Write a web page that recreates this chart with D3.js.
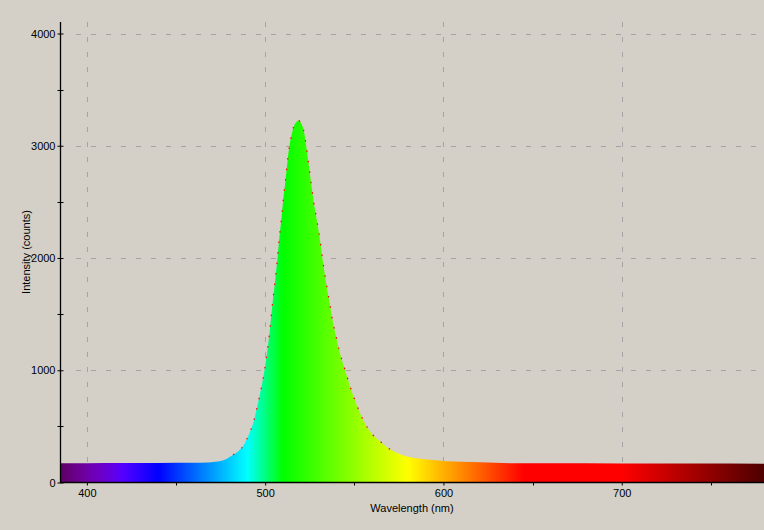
<!DOCTYPE html>
<html>
<head>
<meta charset="utf-8">
<script src="https://cdn.jsdelivr.net/npm/d3@7"></script>
<style>
  html, body { margin: 0; padding: 0; background: #d4d0c8; }
  svg { display: block; }
  text { font-family: "Liberation Sans", Arial, sans-serif; font-size: 11px; fill: #000; }
</style>
</head>
<body>
<svg id="chart" width="764" height="530"></svg>
<script>
// ---- data ----
const wavelengths = [385, 400, 420, 440, 460, 468, 472, 475, 478, 480, 482, 485, 488, 490.5, 493.4, 496.3, 499.6, 502.4, 504.3, 505.6, 506.9, 507.8, 509, 510.1, 511.4, 513.6, 515, 515.9, 517.3, 518.7, 520, 521.1, 522, 523, 525.6, 527.1, 529, 530.8, 532.1, 534, 535.9, 538.1, 539.2, 541.5, 544.8, 550.4, 555.1, 559.8, 564.4, 568.5, 573.8, 578, 583.1, 592.4, 601.8, 610, 620.4, 639, 660, 700, 740, 780];
const intensities = [172, 172, 173, 174, 175, 178, 184, 192, 208, 228, 248, 279, 333, 415, 537, 730, 1000, 1325, 1621, 1800, 2000, 2156, 2334, 2512, 2690, 3000, 3107, 3166, 3208, 3225, 3205, 3166, 3107, 3000, 2690, 2512, 2334, 2156, 2000, 1800, 1621, 1420, 1340, 1180, 1000, 730, 552, 434, 368, 312, 264, 238, 220, 202, 190, 185, 181, 172, 171, 170, 169, 168];
const xTicks = [400, 500, 600, 700];
const xMinorTicks = [450, 550, 650, 750];
const yTicks = [0, 1000, 2000, 3000, 4000];
const yMinorTicks = [500, 1500, 2500, 3500];
const xLabel = "Wavelength (nm)";
const yLabel = "Intensity (counts)";

(function () {
const data = wavelengths.map((w, i) => ({ w, v: intensities[i] }));

// ---- layout ----
const svg = d3.select("#chart");
const pLeft = 60.5, pRight = 764, pTop = 22, pBottom = 482.5;
const x = d3.scaleLinear().domain([385.2, 779.8]).range([pLeft, pRight]);
const y = d3.scaleLinear().domain([0, 4000]).range([pBottom, 33.5]);

// wavelength -> colour (classic spectral approximation)
function specColor(wl) {
  let r = 0, g = 0, b = 0;
  if (wl < 440) { r = -(wl - 440) / 60; b = 1; }
  else if (wl < 490) { g = (wl - 440) / 50; b = 1; }
  else if (wl < 510) { g = 1; b = -(wl - 510) / 20; }
  else if (wl < 580) { r = (wl - 510) / 70; g = 1; }
  else if (wl < 645) { r = 1; g = -(wl - 645) / 65; }
  else { r = 1; }
  let f = 1;
  if (wl < 420) f = 0.3 + 0.7 * (wl - 380) / 40;
  else if (wl > 700) f = 0.3 + 0.7 * (780 - wl) / 80;
  const c = v => Math.round(255 * Math.max(0, Math.min(1, v * f)));
  return `rgb(${c(r)},${c(g)},${c(b)})`;
}

const defs = svg.append("defs");
const grad = defs.append("linearGradient")
  .attr("id", "spec").attr("gradientUnits", "userSpaceOnUse")
  .attr("x1", x(385.2)).attr("x2", x(779.8)).attr("y1", 0).attr("y2", 0);
const [d0, d1] = x.domain();
for (let wl = d0; wl <= d1 + 0.01; wl += 2.5) {
  grad.append("stop").attr("offset", (wl - d0) / (d1 - d0)).attr("stop-color", specColor(wl));
}

// ---- grid ----
const grid = svg.append("g").attr("stroke", "#a4a4a4").attr("stroke-width", 1)
  .attr("stroke-dasharray", "5,10").attr("shape-rendering", "crispEdges");
grid.selectAll(".vg").data(xTicks).join("line")
  .attr("x1", d => Math.round(x(d)) + 0.5).attr("x2", d => Math.round(x(d)) + 0.5)
  .attr("y1", pTop).attr("y2", pBottom);
grid.selectAll(".hg").data(yTicks.filter(d => d > 0)).join("line")
  .attr("x1", pLeft + 15).attr("x2", pRight)
  .attr("y1", d => Math.round(y(d)) + 0.5).attr("y2", d => Math.round(y(d)) + 0.5);

// ---- spectrum fill ----
const area = d3.area().x(d => x(d.w)).y0(y(0)).y1(d => y(d.v)).curve(d3.curveMonotoneX);
svg.append("path").datum(data).attr("d", area).attr("fill", "url(#spec)");

const line = d3.line().x(d => x(d.w)).y(d => y(d.v)).curve(d3.curveMonotoneX);
svg.append("path").datum(data.filter(d => d.v > 240))
  .attr("d", line).attr("fill", "none").attr("stroke", "#ff0000")
  .attr("stroke-width", 1.2).attr("stroke-dasharray", "1.5,9");

// ---- axes ----
const yAxis = svg.append("g").attr("transform", `translate(${pLeft},0)`)
  .call(d3.axisLeft(y).tickValues(yTicks).tickSize(3).tickPadding(2).tickFormat(d3.format("d")));
yAxis.select(".domain").remove();
yAxis.selectAll(".tick line").attr("x2", -3).attr("x1", 3).attr("stroke", "#000");
yAxis.selectAll(".tick text").attr("font-family", null).attr("font-size", null);
svg.append("g").selectAll("line").data(yMinorTicks).join("line")
  .attr("x1", pLeft - 3).attr("x2", pLeft + 3)
  .attr("y1", d => Math.round(y(d)) + 0.5).attr("y2", d => Math.round(y(d)) + 0.5)
  .attr("stroke", "#000");

const xAxis = svg.append("g").attr("transform", `translate(0,${pBottom})`)
  .call(d3.axisBottom(x).tickValues(xTicks).tickSize(3).tickPadding(4).tickFormat(d3.format("d")));
xAxis.select(".domain").remove();
xAxis.selectAll(".tick line").attr("stroke", "#000");
xAxis.selectAll(".tick text").attr("font-family", null).attr("font-size", null);
svg.append("g").selectAll("line").data(xMinorTicks).join("line")
  .attr("x1", d => Math.round(x(d)) + 0.5).attr("x2", d => Math.round(x(d)) + 0.5)
  .attr("y1", pBottom).attr("y2", pBottom + 3).attr("stroke", "#000");

// axis lines
svg.append("line").attr("x1", pLeft).attr("x2", pLeft).attr("y1", pTop).attr("y2", pBottom + 0.5)
  .attr("stroke", "#000").attr("stroke-width", 1.3);
svg.append("line").attr("x1", pLeft).attr("x2", pRight).attr("y1", pBottom).attr("y2", pBottom)
  .attr("stroke", "#000").attr("stroke-width", 1.3);

// ---- labels ----
svg.append("text").attr("x", 412).attr("y", 512).attr("text-anchor", "middle").text(xLabel);
svg.append("text").attr("transform", "translate(30,252) rotate(-90)")
  .attr("text-anchor", "middle").text(yLabel);
})();
</script>
</body>
</html>
